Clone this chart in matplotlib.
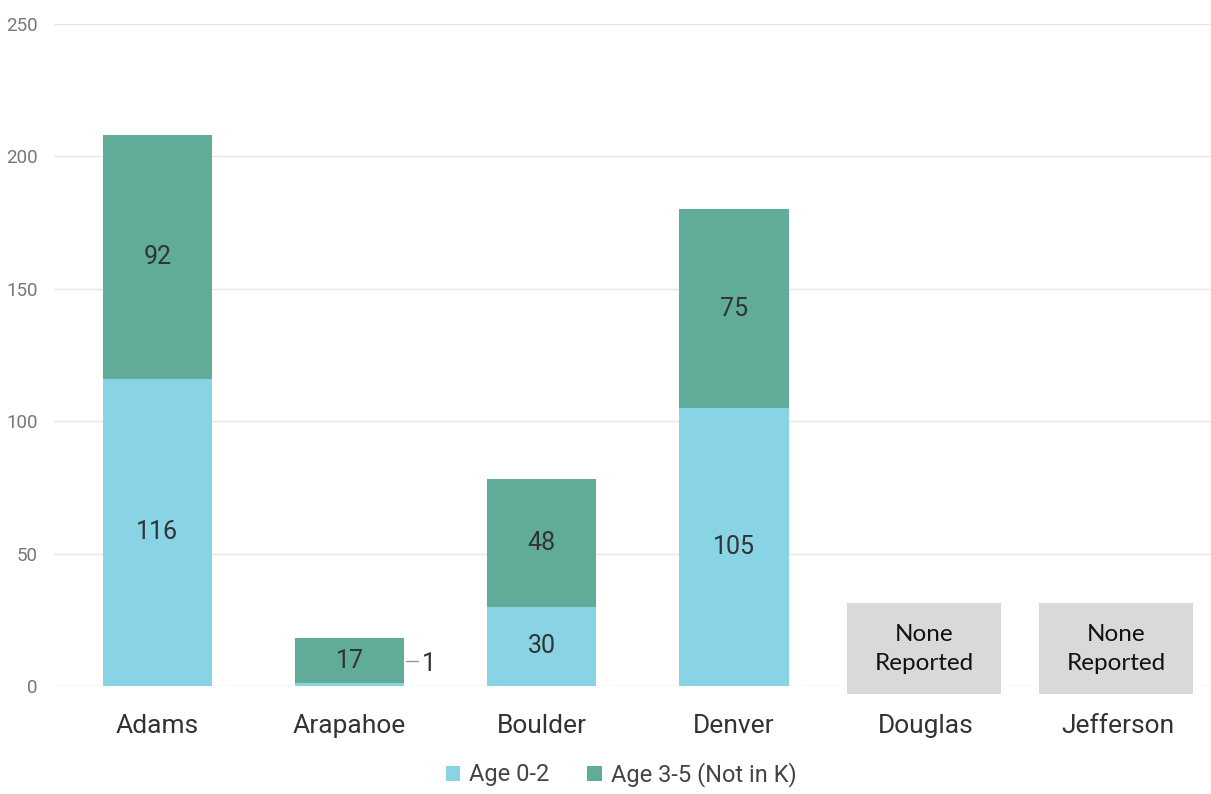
import numpy as np
import matplotlib
matplotlib.use('Agg')
import matplotlib.pyplot as plt
from matplotlib.patches import Rectangle

counties = ['Adams', 'Arapahoe', 'Boulder', 'Denver', 'Douglas', 'Jefferson']
age_0_2 = [116, 1, 30, 105, 0, 0]
age_3_5 = [92, 17, 48, 75, 0, 0]
none_reported = [False, False, False, False, True, True]

c_young = '#88d3e4'
c_old = '#61ac99'

plt.rcParams['font.family'] = ['Roboto', 'DejaVu Sans']

fig = plt.figure(figsize=(12.11, 7.94), dpi=100)
ax = fig.add_axes([0.045, 0.136, 0.955, 0.834])

x = np.arange(len(counties))
w = 0.57
ax.bar(x, age_0_2, w, color=c_young, label='Age 0-2', zorder=2)
ax.bar(x, age_3_5, w, bottom=age_0_2, color=c_old, label='Age 3-5 (Not in K)', zorder=2)

# etiquetas de valores
for i in range(len(counties)):
    if none_reported[i]:
        ax.add_patch(Rectangle((i - 0.41, -3), 0.80, 34.3, facecolor='#d9d9d9',
                               edgecolor='none', zorder=3, clip_on=False))
        ax.text(i - 0.01, 14, 'None\nReported', ha='center', va='center', fontsize=17.5,
                family=['Lato', 'DejaVu Sans'], color='#111111', linespacing=1.45, zorder=4)
        continue
    if age_0_2[i] >= 5:
        ax.text(i, age_0_2[i] / 2, str(age_0_2[i]), ha='center', va='center',
                fontsize=18, color='#333333', zorder=4)
    else:
        ax.plot([i + w / 2 + 0.01, i + w / 2 + 0.07], [age_0_2[i] + 8.5, age_0_2[i] + 8.5],
                color='#999999', lw=1, zorder=4)
        ax.text(i + w / 2 + 0.09, age_0_2[i] + 7.5, str(age_0_2[i]), ha='left', va='center',
                fontsize=18, color='#333333', zorder=4)
    ax.text(i, age_0_2[i] + age_3_5[i] / 2, str(age_3_5[i]), ha='center', va='center',
            fontsize=18, color='#333333', zorder=4)

ax.set_xlim(-0.536, 5.484)
ax.set_ylim(0, 250)
ax.set_yticks([0, 50, 100, 150, 200, 250])
ax.set_xticks(x)
ax.set_xticklabels(counties, fontsize=19, color='#333333')
ax.tick_params(axis='y', labelsize=13.5, colors='#777777', length=0, pad=12)
ax.tick_params(axis='x', length=0, pad=20)
ax.yaxis.grid(True, color='#e6e6e6', lw=1, zorder=0)
ax.set_axisbelow(True)
for s in ax.spines.values():
    s.set_visible(False)

fig.legend(loc='lower center', bbox_to_anchor=(0.513, -0.018), ncol=2, frameon=False,
           fontsize=17, handlelength=0.6, handleheight=0.6, handletextpad=0.4,
           columnspacing=1.6, labelcolor='#444444')

fig.savefig('out.png', dpi=100)
